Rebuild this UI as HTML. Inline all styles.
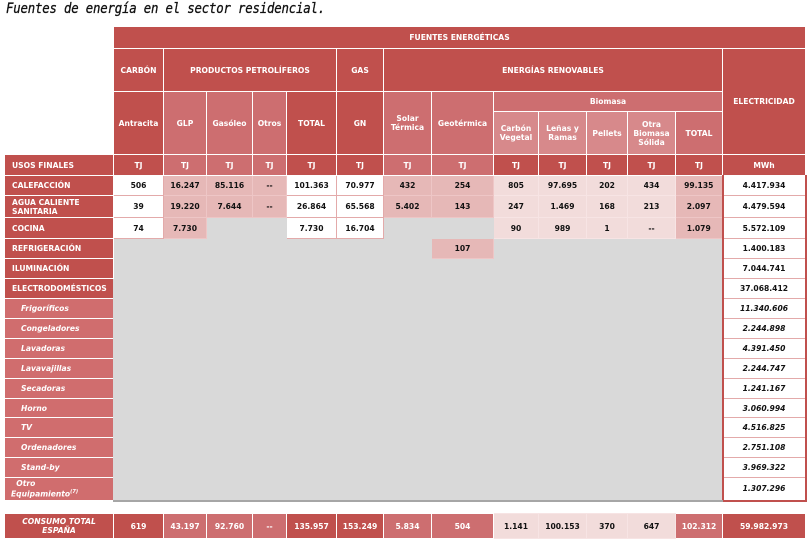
<!DOCTYPE html>
<html><head><meta charset="utf-8"><style>
body{margin:0;width:810px;height:542px;background:#fff;position:relative;overflow:hidden;font-family:"DejaVu Sans","Liberation Sans",sans-serif}
.t{position:absolute;left:6px;top:1px;font-family:"DejaVu Sans Mono","Liberation Mono",monospace;font-style:italic;font-size:14.5px;letter-spacing:-0.2px;color:#111;-webkit-text-stroke:0.3px #111;transform:scaleX(0.85);transform-origin:0 0;white-space:nowrap}
table{position:absolute;left:4px;border-collapse:collapse;table-layout:fixed;width:801px}
td{padding:0;font-size:7.6px;font-weight:bold;text-align:center;line-height:9px;border:1px solid #fff;color:#fff;overflow:hidden;white-space:nowrap}
.d{background:#c0504d}
.m{background:#cd6e70}
.l{background:#d7898b}
.lb{background:#c0504d;text-align:left;padding-left:7px}
.sb{background:#d06d6e;text-align:left;padding-left:16px;font-style:italic}
.w{background:#fff;color:#111;border-color:#e3aaaa}
.p{background:#e6b8b7;color:#111;border-color:#eec6c6}
.q{background:#f2dcdb;color:#111;border-color:#f7e4e4}
.g{background:#d9d9d9;border-color:#d9d9d9}
.e{background:#fff;color:#111;border:1px solid #e3aaaa;border-left:2px solid #c0504d;border-right:2px solid #c0504d}
.i{font-style:italic}
.x{background:#fff;border-color:#fff}
</style></head><body>
<div class="t">Fuentes de energía en el sector residencial.</div>
<table style="top:26px">
<colgroup><col style="width:109px"><col style="width:50px"><col style="width:43px"><col style="width:46px"><col style="width:34px"><col style="width:50px"><col style="width:47px"><col style="width:48px"><col style="width:62px"><col style="width:45px"><col style="width:48px"><col style="width:41px"><col style="width:48px"><col style="width:47px"><col style="width:83px"></colgroup>
<tr style="height:22px"><td class="x" rowspan="4"></td><td class="d" colspan="14">FUENTES ENERGÉTICAS</td></tr>
<tr style="height:43px"><td class="d">CARBÓN</td><td class="d" colspan="4">PRODUCTOS PETROLÍFEROS</td><td class="d">GAS</td><td class="d" colspan="7">ENERGÍAS RENOVABLES</td><td class="d" rowspan="3">ELECTRICIDAD</td></tr>
<tr style="height:20px"><td class="d" rowspan="2">Antracita</td><td class="m" rowspan="2">GLP</td><td class="m" rowspan="2">Gasóleo</td><td class="m" rowspan="2">Otros</td><td class="d" rowspan="2">TOTAL</td><td class="d" rowspan="2">GN</td><td class="m" rowspan="2">Solar<br>Térmica</td><td class="m" rowspan="2">Geotérmica</td><td class="m" colspan="5">Biomasa</td></tr>
<tr style="height:43px"><td class="l">Carbón<br>Vegetal</td><td class="l">Leñas y<br>Ramas</td><td class="l">Pellets</td><td class="l">Otra<br>Biomasa<br>Sólida</td><td class="m">TOTAL</td></tr>
<tr style="height:21px"><td class="lb">USOS FINALES</td><td class="d">TJ</td><td class="m">TJ</td><td class="m">TJ</td><td class="m">TJ</td><td class="d">TJ</td><td class="d">TJ</td><td class="m">TJ</td><td class="m">TJ</td><td class="d">TJ</td><td class="d">TJ</td><td class="d">TJ</td><td class="d">TJ</td><td class="d">TJ</td><td class="d">MWh</td></tr>
<tr style="height:20px"><td class="lb">CALEFACCIÓN</td><td class="w">506</td><td class="p">16.247</td><td class="p">85.116</td><td class="p">--</td><td class="w">101.363</td><td class="w">70.977</td><td class="p">432</td><td class="p">254</td><td class="q">805</td><td class="q">97.695</td><td class="q">202</td><td class="q">434</td><td class="p">99.135</td><td class="e">4.417.934</td></tr>
<tr style="height:22px"><td class="lb">AGUA CALIENTE<br>SANITARIA</td><td class="w">39</td><td class="p">19.220</td><td class="p">7.644</td><td class="p">--</td><td class="w">26.864</td><td class="w">65.568</td><td class="p">5.402</td><td class="p">143</td><td class="q">247</td><td class="q">1.469</td><td class="q">168</td><td class="q">213</td><td class="p">2.097</td><td class="e">4.479.594</td></tr>
<tr style="height:21px"><td class="lb">COCINA</td><td class="w">74</td><td class="p">7.730</td><td class="g"></td><td class="g"></td><td class="w">7.730</td><td class="w">16.704</td><td class="g"></td><td class="g"></td><td class="q">90</td><td class="q">989</td><td class="q">1</td><td class="q">--</td><td class="p">1.079</td><td class="e">5.572.109</td></tr>
<tr style="height:20px"><td class="lb">REFRIGERACIÓN</td><td class="g" colspan="7"></td><td class="p">107</td><td class="g" colspan="5"></td><td class="e">1.400.183</td></tr>
<tr style="height:20px"><td class="lb">ILUMINACIÓN</td><td class="g" colspan="13" rowspan="14"></td><td class="e">7.044.741</td></tr>
<tr style="height:20px"><td class="lb">ELECTRODOMÉSTICOS</td><td class="e">37.068.412</td></tr>
<tr style="height:20px"><td class="sb">Frigoríficos</td><td class="e i">11.340.606</td></tr>
<tr style="height:20px"><td class="sb">Congeladores</td><td class="e i">2.244.898</td></tr>
<tr style="height:20px"><td class="sb">Lavadoras</td><td class="e i">4.391.450</td></tr>
<tr style="height:20px"><td class="sb">Lavavajillas</td><td class="e i">2.244.747</td></tr>
<tr style="height:20px"><td class="sb">Secadoras</td><td class="e i">1.241.167</td></tr>
<tr style="height:19px"><td class="sb">Horno</td><td class="e i">3.060.994</td></tr>
<tr style="height:20px"><td class="sb">TV</td><td class="e i">4.516.825</td></tr>
<tr style="height:20px"><td class="sb">Ordenadores</td><td class="e i">2.751.108</td></tr>
<tr style="height:20px"><td class="sb">Stand-by</td><td class="e i">3.969.322</td></tr>
<tr style="height:23px"><td class="sb" style="padding-left:6px">&nbsp;&nbsp;Otro<br>Equipamiento<sup style="font-size:5px">(7)</sup></td><td class="e i" style="border-bottom:2px solid #c0504d">1.307.296</td></tr>
</table>
<div style="position:absolute;left:113px;top:500px;width:610px;height:2px;background:#a6a6a6"></div>
<table style="top:513px">
<colgroup><col style="width:109px"><col style="width:50px"><col style="width:43px"><col style="width:46px"><col style="width:34px"><col style="width:50px"><col style="width:47px"><col style="width:48px"><col style="width:62px"><col style="width:45px"><col style="width:48px"><col style="width:41px"><col style="width:48px"><col style="width:47px"><col style="width:83px"></colgroup>
<tr style="height:25px"><td class="d i">CONSUMO TOTAL<br>ESPAÑA</td><td class="d">619</td><td class="m">43.197</td><td class="m">92.760</td><td class="m">--</td><td class="d">135.957</td><td class="d">153.249</td><td class="m">5.834</td><td class="m">504</td><td class="q">1.141</td><td class="q">100.153</td><td class="q">370</td><td class="q">647</td><td class="m">102.312</td><td class="d">59.982.973</td></tr>
</table>
</body></html>
